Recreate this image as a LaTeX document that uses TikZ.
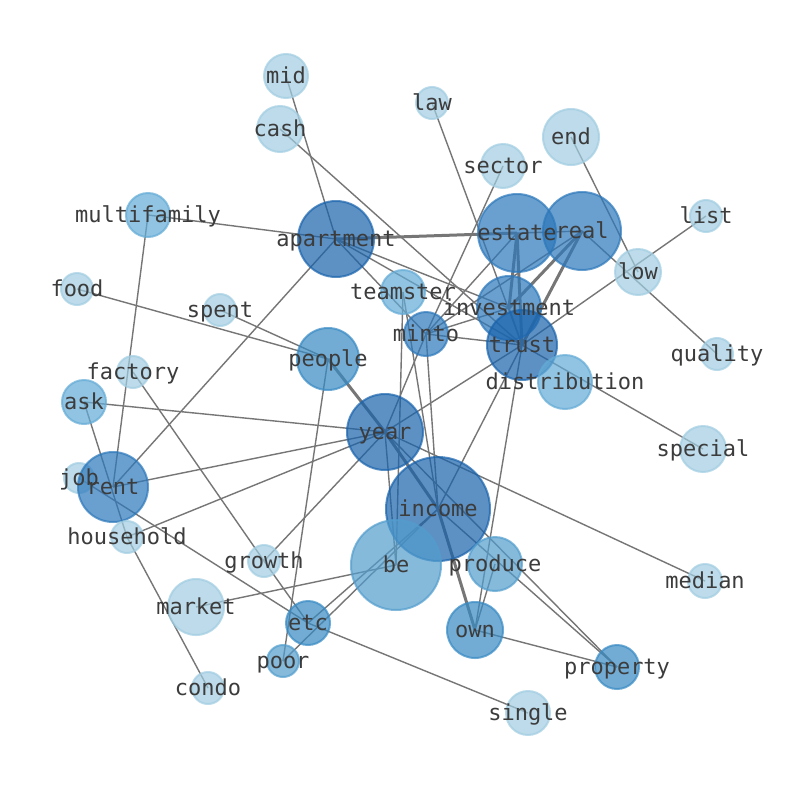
\documentclass[tikz,border=0pt]{standalone}
\usepackage{fontspec}
\setmonofont{DejaVu Sans Mono}
\usetikzlibrary{backgrounds}

\definecolor{bA}{RGB}{25,99,172}
\definecolor{bB}{RGB}{44,120,187}
\definecolor{bC}{RGB}{55,138,196}
\definecolor{bD}{RGB}{82,157,205}
\definecolor{bE}{RGB}{99,171,214}
\definecolor{bF}{RGB}{161,205,226}
\definecolor{edgegray}{RGB}{118,118,118}
\definecolor{textgray}{RGB}{60,60,60}

\begin{document}
\begin{tikzpicture}[x=1pt,y=-1pt,
  word/.style={circle,draw,line width=2pt,fill opacity=.7,draw opacity=.7,inner sep=0pt},
  b1/.style={draw=bA,fill=bA}, b2/.style={draw=bB,fill=bB}, b3/.style={draw=bC,fill=bC},
  b4/.style={draw=bD,fill=bD}, b5/.style={draw=bE,fill=bE}, b6/.style={draw=bF,fill=bF},
  lbl/.style={font=\fontsize{22}{26}\selectfont\ttfamily,text=textgray,text height=16.7pt,text depth=5.3pt,inner sep=0pt,yshift=-2pt},
  link/.style={draw=edgegray,line width=1.4pt},
  heavy/.style={link,line width=3pt}]

            \useasboundingbox (0,0) rectangle (794,790);

            % words
            \node[word, b6, minimum size=44] (mid) at (286,76) {};
            \node[word, b6, minimum size=46] (cash) at (280,129) {};
            \node[word, b6, minimum size=32] (law) at (432,103) {};
            \node[word, b6, minimum size=56] (end) at (571,137) {};
            \node[word, b6, minimum size=44] (sector) at (503,166) {};
            \node[word, b5, minimum size=44] (multifamily) at (148,215) {};
            \node[word, b1, minimum size=76] (apartment) at (336,239) {};
            \node[word, b2, minimum size=78] (estate) at (517,233) {};
            \node[word, b2, minimum size=78] (real) at (582,231) {};
            \node[word, b6, minimum size=32] (list) at (706,216) {};
            \node[word, b6, minimum size=46] (low) at (638,272) {};
            \node[word, b6, minimum size=32] (food) at (77,289) {};
            \node[word, b5, minimum size=44] (teamster) at (403,292) {};
            \node[word, b6, minimum size=32] (spent) at (220,310) {};
            \node[word, b2, minimum size=64] (investment) at (509,308) {};
            \node[word, b2, minimum size=44] (minto) at (426,334) {};
            \node[word, b1, minimum size=70] (trust) at (522,345) {};
            \node[word, b6, minimum size=32] (quality) at (717,354) {};
            \node[word, b3, minimum size=62] (people) at (328,359) {};
            \node[word, b6, minimum size=32] (factory) at (133,372) {};
            \node[word, b5, minimum size=54] (distribution) at (565,382) {};
            \node[word, b5, minimum size=44] (ask) at (84,402) {};
            \node[word, b1, minimum size=76] (year) at (385,432) {};
            \node[word, b6, minimum size=46] (special) at (703,449) {};
            \node[word, b6, minimum size=30] (job) at (79,478) {};
            \node[word, b2, minimum size=70] (rent) at (113,487) {};
            \node[word, b1, minimum size=104] (income) at (438,509) {};
            \node[word, b6, minimum size=32] (household) at (127,537) {};
            \node[word, b6, minimum size=32] (growth) at (264,561) {};
            \node[word, b4, minimum size=90] (be) at (396,565) {};
            \node[word, b4, minimum size=54] (produce) at (495,564) {};
            \node[word, b6, minimum size=34] (median) at (705,581) {};
            \node[word, b6, minimum size=56] (market) at (196,607) {};
            \node[word, b3, minimum size=44] (etc) at (308,623) {};
            \node[word, b3, minimum size=56] (own) at (475,630) {};
            \node[word, b4, minimum size=32] (poor) at (283,661) {};
            \node[word, b3, minimum size=44] (property) at (617,667) {};
            \node[word, b6, minimum size=32] (condo) at (208,688) {};
            \node[word, b6, minimum size=44] (single) at (528,713) {};

            % links
            \begin{scope}[on background layer]
            \fill[white] (0,0) rectangle (794,790);
            \draw[link] (mid.center) to (apartment.center);
            \draw[link] (cash.center) to (trust.center);
            \draw[link] (law.center) to (trust.center);
            \draw[link] (multifamily.center) to (apartment.center);
            \draw[link] (multifamily.center) to (rent.center);
            \draw[link] (food.center) to (people.center);
            \draw[link] (spent.center) to (people.center);
            \draw[link] (apartment.center) to (rent.center);
            \draw[heavy] (apartment.center) to (estate.center);
            \draw[link] (apartment.center) to (real.center);
            \draw[link] (apartment.center) to (minto.center);
            \draw[link] (apartment.center) to (investment.center);
            \draw[link] (apartment.center) to (trust.center);
            \draw[link] (sector.center) to (minto.center);
            \draw[link] (end.center) to (low.center);
            \draw[link] (list.center) to (trust.center);
            \draw[link] (real.center) to (quality.center);
            \draw[heavy] (estate.center) to (trust.center);
            \draw[heavy] (estate.center) to (investment.center);
            \draw[heavy] (real.center) to (trust.center);
            \draw[heavy] (real.center) to (investment.center);
            \draw[link] (investment.center) to (trust.center);
            \draw[link] (minto.center) to (trust.center);
            \draw[link] (minto.center) to (estate.center);
            \draw[link] (minto.center) to (real.center);
            \draw[link] (minto.center) to (investment.center);
            \draw[link] (minto.center) to (year.center);
            \draw[link] (minto.center) to (income.center);
            \draw[link] (teamster.center) to (be.center);
            \draw[link] (teamster.center) to (income.center);
            \draw[link] (trust.center) to (special.center);
            \draw[link] (trust.center) to (year.center);
            \draw[link] (trust.center) to (income.center);
            \draw[link] (trust.center) to (own.center);
            \draw[heavy] (people.center) to (year.center);
            \draw[heavy] (year.center) to (income.center);
            \draw[link] (year.center) to (property.center);
            \draw[link] (income.center) to (property.center);
            \draw[heavy] (income.center) to (own.center);
            \draw[link] (produce.center) to (own.center);
            \draw[link] (own.center) to (property.center);
            \draw[link] (year.center) to (growth.center);
            \draw[link] (ask.center) to (year.center);
            \draw[link] (rent.center) to (year.center);
            \draw[link] (household.center) to (year.center);
            \draw[link] (year.center) to (median.center);
            \draw[link] (year.center) to (be.center);
            \draw[link] (etc.center) to (income.center);
            \draw[link] (poor.center) to (income.center);
            \draw[link] (market.center) to (be.center);
            \draw[link] (etc.center) to (single.center);
            \draw[link] (people.center) to (poor.center);
            \draw[link] (factory.center) to (growth.center);
            \draw[link] (growth.center) to (etc.center);
            \draw[link] (job.center) to (etc.center);
            \draw[link] (ask.center) to (household.center);
            \draw[link] (household.center) to (condo.center);
            \end{scope}

            % labels
            \foreach \w in {mid,cash,law,end,sector,multifamily,apartment,estate,real,list,low,food,
                teamster,spent,investment,minto,trust,quality,people,factory,distribution,ask,year,
                special,job,rent,income,household,growth,be,produce,median,market,etc,own,poor,
                property,condo,single}
                \node[lbl] (\w-t) at (\w) {\w};

            ;
        \end{tikzpicture}
\end{document}
